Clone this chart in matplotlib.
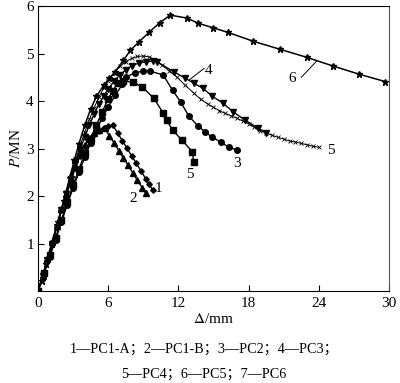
import matplotlib
matplotlib.use("Agg")
import matplotlib.pyplot as plt

plt.rcParams['font.family'] = ['Liberation Serif', 'Noto Sans CJK SC']
plt.rcParams['mathtext.fontset'] = 'stix'

# PC1-A
x1 = [0, 0.4, 0.8, 1.2, 1.6, 2.0, 2.4, 2.8, 3.2, 3.6, 4.0, 4.4, 4.8, 5.2, 5.6, 6.0, 6.4,
      6.8, 7.2, 7.6, 8.0, 8.4, 8.8, 9.2, 9.5, 9.8]
y1 = [0, 0.3, 0.65, 1.0, 1.35, 1.7, 2.0, 2.3, 2.6, 2.85, 3.05, 3.2, 3.3, 3.38, 3.43, 3.47, 3.49,
      3.33, 3.17, 3.01, 2.85, 2.69, 2.53, 2.37, 2.25, 2.13]
# PC1-B
x2 = [0, 0.4, 0.8, 1.2, 1.6, 2.0, 2.4, 2.8, 3.2, 3.6, 4.0, 4.4, 4.8, 5.2, 5.7,
      6.1, 6.5, 6.9, 7.3, 7.7, 8.1, 8.5, 8.9, 9.2]
y2 = [0, 0.32, 0.68, 1.03, 1.38, 1.72, 2.04, 2.35, 2.63, 2.88, 3.08, 3.23, 3.33, 3.4, 3.43,
      3.27, 3.12, 2.96, 2.80, 2.65, 2.49, 2.33, 2.18, 2.06]
# PC2
x3 = [0, 0.5, 1.0, 1.5, 2.0, 2.5, 3.0, 3.5, 4.0, 4.5, 5.0, 5.5, 6.0, 6.6, 7.2, 7.5, 8.3, 9.0,
      9.6, 10.7, 11.5, 12.2, 12.9, 13.7, 14.3, 14.9, 15.6, 16.3, 17.0]
y3 = [0, 0.35, 0.72, 1.08, 1.45, 1.82, 2.17, 2.5, 2.82, 3.12, 3.4, 3.65, 3.88, 4.12, 4.35, 4.5,
      4.6, 4.63, 4.63, 4.55, 4.23, 3.98, 3.68, 3.47, 3.35, 3.24, 3.14, 3.03, 2.97]
# PC3
x4 = [0, 0.4, 0.8, 1.2, 1.6, 2.0, 2.4, 2.8, 3.2, 3.6, 4.0, 4.4, 4.8, 5.2, 5.6, 6.0, 6.5, 7.0,
      7.5, 8.0, 8.6, 9.2, 9.8, 10.2, 11.6, 12.6, 13.3, 14.1, 14.9, 15.8, 16.7, 17.7, 18.8, 19.5]
y4 = [0, 0.32, 0.66, 1.0, 1.35, 1.7, 2.04, 2.37, 2.68, 2.98, 3.25, 3.5, 3.73, 3.93, 4.1, 4.25,
      4.42, 4.55, 4.66, 4.74, 4.8, 4.83, 4.84, 4.82, 4.62, 4.48, 4.38, 4.27, 4.1, 3.96, 3.77,
      3.6, 3.43, 3.33]
# PC4 (squares)
xs = [0, 0.5, 1.0, 1.5, 2.0, 2.5, 3.0, 3.5, 4.0, 4.5, 5.0, 5.5, 6.0, 6.4, 6.8, 7.3, 8.1, 8.9,
      9.9, 10.7, 11.0, 11.5, 12.3, 13.2, 13.3]
ys = [0, 0.38, 0.75, 1.12, 1.5, 1.87, 2.23, 2.57, 2.9, 3.2, 3.5, 3.78, 4.05, 4.22, 4.38, 4.42,
      4.4, 4.3, 4.06, 3.75, 3.6, 3.39, 3.18, 2.93, 2.72]
# crosses, thin line
x5 = [0, 0.4, 0.8, 1.2, 1.6, 2.0, 2.4, 2.8, 3.2, 3.6, 4.0, 4.4, 4.8, 5.2, 5.6, 6.0, 6.5, 7.0,
      7.5, 8.0, 8.5, 9.0, 9.5, 10.0, 10.6, 11.2, 11.9, 12.6, 13.3, 13.9, 14.5, 15.0, 15.5, 16.0,
      16.5, 17.0, 17.5, 18.0, 18.5, 19.0, 19.5, 20.0, 20.5, 21.0, 21.5, 22.0, 22.5, 23.0, 23.5, 24.0]
y5 = [0, 0.33, 0.68, 1.03, 1.38, 1.73, 2.08, 2.42, 2.75, 3.06, 3.35, 3.62, 3.86, 4.08, 4.27,
      4.43, 4.6, 4.73, 4.83, 4.9, 4.94, 4.95, 4.93, 4.87, 4.76, 4.64, 4.5, 4.33, 4.17, 4.04,
      3.94, 3.87, 3.8, 3.74, 3.69, 3.64, 3.58, 3.52, 3.45, 3.38, 3.33, 3.28, 3.24, 3.2, 3.16,
      3.14, 3.11, 3.08, 3.05, 3.03]
# stars
x6 = [0, 0.3, 0.7, 1.2, 1.7, 2.2, 2.7, 3.1, 3.5, 4.0, 4.5, 5.0, 5.6, 6.1, 6.6, 7.3, 7.9, 8.6,
      9.5, 10.4, 11.3, 12.7, 13.7, 15.0, 16.2, 18.4, 20.7, 23.0, 25.2, 27.4, 29.7]
y6 = [0, 0.22, 0.57, 1.0, 1.45, 1.9, 2.38, 2.75, 3.1, 3.5, 3.83, 4.1, 4.33, 4.48, 4.62, 4.86,
      5.07, 5.24, 5.45, 5.65, 5.81, 5.75, 5.64, 5.54, 5.45, 5.26, 5.09, 4.92, 4.74, 4.57, 4.41]

fig = plt.figure(figsize=(4.0, 3.83), dpi=100)
ax = fig.add_axes([0.095, 0.24, 0.8775, 0.744])

kw = dict(color='black', mec='black', mfc='black')
ax.plot(x6, y6, marker='*', ms=5, lw=1.1, **kw)
ax.plot(x5, y5, marker='x', ms=3, lw=0.7, mew=0.6, **kw)
ax.plot(x4, y4, marker='v', ms=4, lw=1.0, **kw)
ax.plot(x3, y3, marker='o', ms=4, lw=1.0, **kw)
ax.plot(xs, ys, marker='s', ms=4, lw=1.0, **kw)
ax.plot(x1, y1, marker='D', ms=2.8, lw=1.0, **kw)
ax.plot(x2, y2, marker='^', ms=4, lw=1.0, **kw)

lab = dict(fontsize=11, ha='center', va='center')
ax.text(10.3, 2.17, '1', **lab)
ax.text(8.1, 1.94, '2', **lab)
ax.text(17.0, 2.69, '3', **lab)
ax.text(14.6, 4.65, '4', **lab)
ax.plot([14.2, 12.9], [4.69, 4.44], color='black', lw=0.7)
ax.text(13.0, 2.46, '5', **lab)
ax.text(25.0, 2.97, '5', **lab)
ax.text(21.7, 4.48, '6', **lab)
ax.plot([22.5, 23.8], [4.5, 4.84], color='black', lw=0.7)

ax.set_xlim(0, 30)
ax.set_ylim(0, 6)
ax.set_xticks([0, 6, 12, 18, 24, 30])
ax.set_yticks([1, 2, 3, 4, 5, 6])
ax.tick_params(direction='in', length=4, width=0.8, labelsize=11, pad=3)
ax.tick_params(axis='x', pad=4)
for s in ax.spines.values():
    s.set_linewidth(0.8)
ax.spines['right'].set_color('#555555')

ax.set_xlabel(r'$\mathit{\Delta}$/mm', fontsize=11, labelpad=2)
ax.set_ylabel(r'$P$/MN', fontsize=11, labelpad=2)

fig.text(0.51, 0.087, '1—PC1-A；2—PC1-B；3—PC2；4—PC3；', ha='center', va='center', fontsize=10.2)
fig.text(0.51, 0.022, '5—PC4；6—PC5；7—PC6', ha='center', va='center', fontsize=10.2)

fig.savefig('out.png', dpi=100)
